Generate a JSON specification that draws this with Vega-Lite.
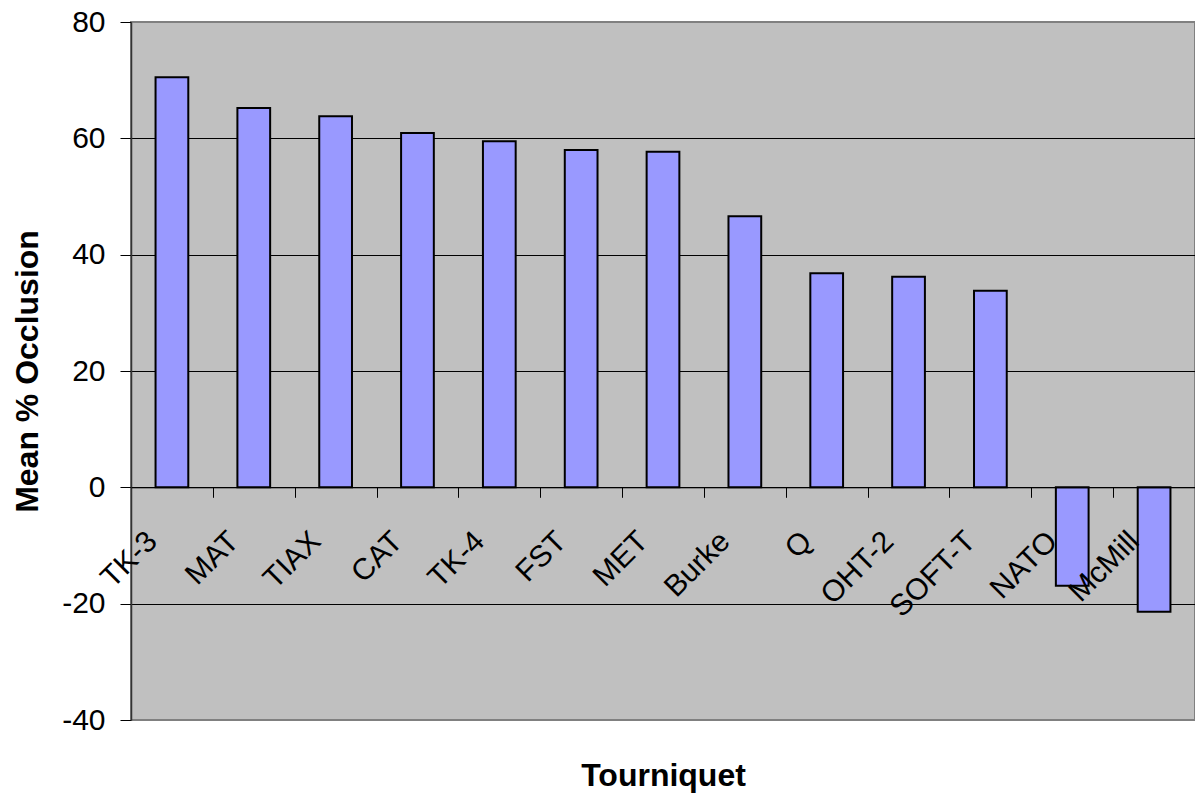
{
  "$schema": "https://vega.github.io/schema/vega-lite/v6.json",
  "autosize": "none",
  "padding": {"left": 131, "top": 22, "right": 0, "bottom": 73},
  "width": 1064,
  "height": 698,
  "background": "white",
  "config": {
    "font": "Liberation Sans",
    "view": {"fill": "#C0C0C0", "stroke": "#808080", "strokeWidth": 2}
  },
  "data": {
    "values": [
      {"tourniquet": "TK-3", "occlusion": 70.5},
      {"tourniquet": "MAT", "occlusion": 65.2},
      {"tourniquet": "TIAX", "occlusion": 63.8},
      {"tourniquet": "CAT", "occlusion": 60.9},
      {"tourniquet": "TK-4", "occlusion": 59.5},
      {"tourniquet": "FST", "occlusion": 58.0},
      {"tourniquet": "MET", "occlusion": 57.7},
      {"tourniquet": "Burke", "occlusion": 46.6},
      {"tourniquet": "Q", "occlusion": 36.8},
      {"tourniquet": "OHT-2", "occlusion": 36.2},
      {"tourniquet": "SOFT-T", "occlusion": 33.8},
      {"tourniquet": "NATO", "occlusion": -16.9},
      {"tourniquet": "McMill", "occlusion": -21.4}
    ]
  },
  "mark": {"type": "bar", "fill": "#9999FF", "stroke": "black", "strokeWidth": 2},
  "encoding": {
    "x": {
      "field": "tourniquet",
      "type": "nominal",
      "sort": null,
      "scale": {"paddingInner": 0.6, "paddingOuter": 0.3},
      "axis": {
        "title": "Tourniquet",
        "titleFont": "Liberation Sans",
        "titleFontSize": 32,
        "titleFontWeight": "bold",
        "titleColor": "black",
        "titleX": 532,
        "titleY": 297.7,
        "titleBaseline": "alphabetic",
        "titleAlign": "center",
        "offset": -232.7,
        "zindex": 1,
        "grid": false,
        "domain": true,
        "domainColor": "black",
        "domainWidth": 1,
        "ticks": true,
        "tickOffset": 40.9,
        "tickColor": "black",
        "tickSize": 10,
        "tickWidth": 1,
        "labelAngle": -45,
        "labelAlign": "right",
        "labelBaseline": "middle",
        "labelOffset": -61,
        "labelPadding": 39,
        "labelFontSize": 30,
        "labelColor": "black",
        "labelOverlap": false,
        "labelFlush": false,
        "labelLimit": 0
      }
    },
    "y": {
      "field": "occlusion",
      "type": "quantitative",
      "scale": {"domain": [-40, 80], "nice": false, "zero": false},
      "axis": {
        "title": "Mean % Occlusion",
        "titleFont": "Liberation Sans",
        "titleFontSize": 32,
        "titleFontWeight": "bold",
        "titleColor": "black",
        "titleAngle": -90,
        "titleX": -94,
        "titleY": 349,
        "titleBaseline": "alphabetic",
        "titleAlign": "center",
        "values": [-40, -20, 0, 20, 40, 60, 80],
        "labelExpr": "toString(datum.value)",
        "grid": true,
        "gridColor": {"condition": {"test": "datum.value == 80 || datum.value == -40", "value": "#808080"}, "value": "black"},
        "gridWidth": 1,
        "gridOpacity": 1,
        "domain": true,
        "domainColor": "#333333",
        "domainWidth": 1.5,
        "tickColor": "black",
        "tickSize": 11,
        "tickWidth": 1,
        "labelFontSize": 30,
        "labelColor": "black",
        "labelPadding": 15,
        "labelFlush": false,
        "labelOverlap": false
      }
    }
  }
}
